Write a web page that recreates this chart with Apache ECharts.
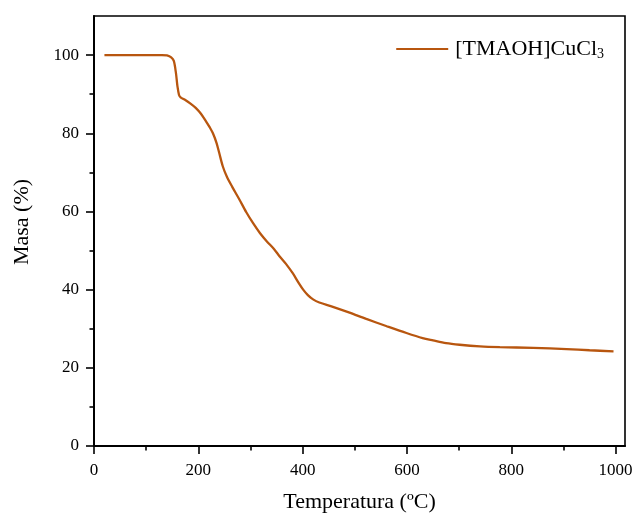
<!DOCTYPE html>
<html>
<head>
<meta charset="utf-8">
<script src="https://cdn.jsdelivr.net/npm/echarts@6/dist/echarts.min.js"></script>
<style>html,body{margin:0;padding:0;background:#fff}#c{width:635px;height:513px}</style>
</head>
<body>
<div id="c"></div>
<script>
const temperature = [20, 60, 100, 130, 140, 148, 153, 157, 160, 163, 166, 175, 185, 195, 205, 215, 222, 228, 235, 240, 247, 255, 265, 279, 292, 305, 318, 331, 345, 356, 368, 381, 392, 401, 410, 420, 432, 458, 490, 522, 560, 599, 630, 650, 675, 701, 740, 778, 842, 906, 950, 996];
const mass = [100, 100, 100, 100, 99.9, 99.4, 98.5, 95.5, 92, 89.8, 89.2, 88.5, 87.6, 86.5, 85, 83, 81.5, 80, 77.5, 75, 71.5, 68.8, 66.3, 63, 59.8, 57, 54.5, 52.4, 50.4, 48.5, 46.6, 44.2, 41.8, 40, 38.6, 37.5, 36.7, 35.6, 34.1, 32.5, 30.7, 28.9, 27.6, 27, 26.3, 25.9, 25.5, 25.3, 25.1, 24.8, 24.5, 24.2];
const seriesName = '[TMAOH]CuCl3';
const xTicks = [0, 200, 400, 600, 800, 1000];
const xMinor = [100, 300, 500, 700, 900];
const yTicks = [0, 20, 40, 60, 80, 100];
const yMinor = [10, 30, 50, 70, 90];

const chart = echarts.init(document.getElementById('c'), null, {renderer: 'canvas'});
const font = '"Liberation Serif", "Times New Roman", serif';
const plain = v => String(v);
chart.setOption({
  animation: false,
  backgroundColor: '#fff',
  grid: {left: 94, right: 10, top: 16, bottom: 67, show: true, borderColor: '#000', borderWidth: 1.6, containLabel: false, outerBoundsMode: 'none'},
  legend: {
    data: [seriesName],
    top: 33, right: 26,
    icon: 'rect', itemWidth: 52, itemHeight: 2, itemGap: 0,
    formatter: () => '{n|[TMAOH]CuCl}{s|3}',
    textStyle: {
      fontFamily: font, color: '#000', padding: [0, 0, 0, 2],
      rich: {
        n: {fontFamily: font, fontSize: 22, color: '#000'},
        s: {fontFamily: font, fontSize: 14, color: '#000', verticalAlign: 'bottom', padding: [11, 0, 0, 0]}
      }
    }
  },
  xAxis: [
    {
      type: 'value', min: 0, max: 1018, position: 'bottom',
      name: 'Temperatura (ºC)', nameLocation: 'middle', nameGap: 45,
      nameTextStyle: {fontFamily: font, fontSize: 22, color: '#000'},
      splitLine: {show: false},
      axisLine: {show: true, onZero: false, lineStyle: {color: '#000', width: 2}},
      axisTick: {show: true, inside: false, length: 8, lineStyle: {color: '#000', width: 1.6}, customValues: xTicks},
      axisLabel: {show: true, margin: 16, fontFamily: font, fontSize: 17, color: '#000', formatter: plain, customValues: xTicks},
    },
    {
      type: 'value', min: 0, max: 1018, position: 'bottom',
      splitLine: {show: false},
      axisLine: {show: false, onZero: false},
      axisTick: {show: true, inside: false, length: 4.5, lineStyle: {color: '#000', width: 1.6}, customValues: xMinor},
      axisLabel: {show: false, customValues: xMinor},
    }
  ],
  yAxis: [
    {
      type: 'value', min: 0, max: 110, position: 'left',
      name: 'Masa (%)', nameLocation: 'middle', nameGap: 61, nameRotate: 90,
      nameTextStyle: {fontFamily: font, fontSize: 22, color: '#000', padding: [0, 0, 0, 18]},
      splitLine: {show: false},
      axisLine: {show: true, onZero: false, lineStyle: {color: '#000', width: 2}},
      axisTick: {show: true, inside: false, length: 8, lineStyle: {color: '#000', width: 1.6}, customValues: yTicks},
      axisLabel: {show: true, margin: 15, fontFamily: font, fontSize: 17, color: '#000', formatter: plain, customValues: yTicks},
    },
    {
      type: 'value', min: 0, max: 110, position: 'left',
      splitLine: {show: false},
      axisLine: {show: false, onZero: false},
      axisTick: {show: true, inside: false, length: 4.5, lineStyle: {color: '#000', width: 1.6}, customValues: yMinor},
      axisLabel: {show: false, customValues: yMinor},
    }
  ],
  series: [{
    name: seriesName,
    type: 'line',
    xAxisIndex: 0, yAxisIndex: 0,
    data: temperature.map((t, i) => [t, mass[i]]),
    showSymbol: false,
    smooth: 0.3,
    lineStyle: {color: '#B8560F', width: 2.3},
    itemStyle: {color: '#B8560F'}
  }]
});
</script>
</body>
</html>
